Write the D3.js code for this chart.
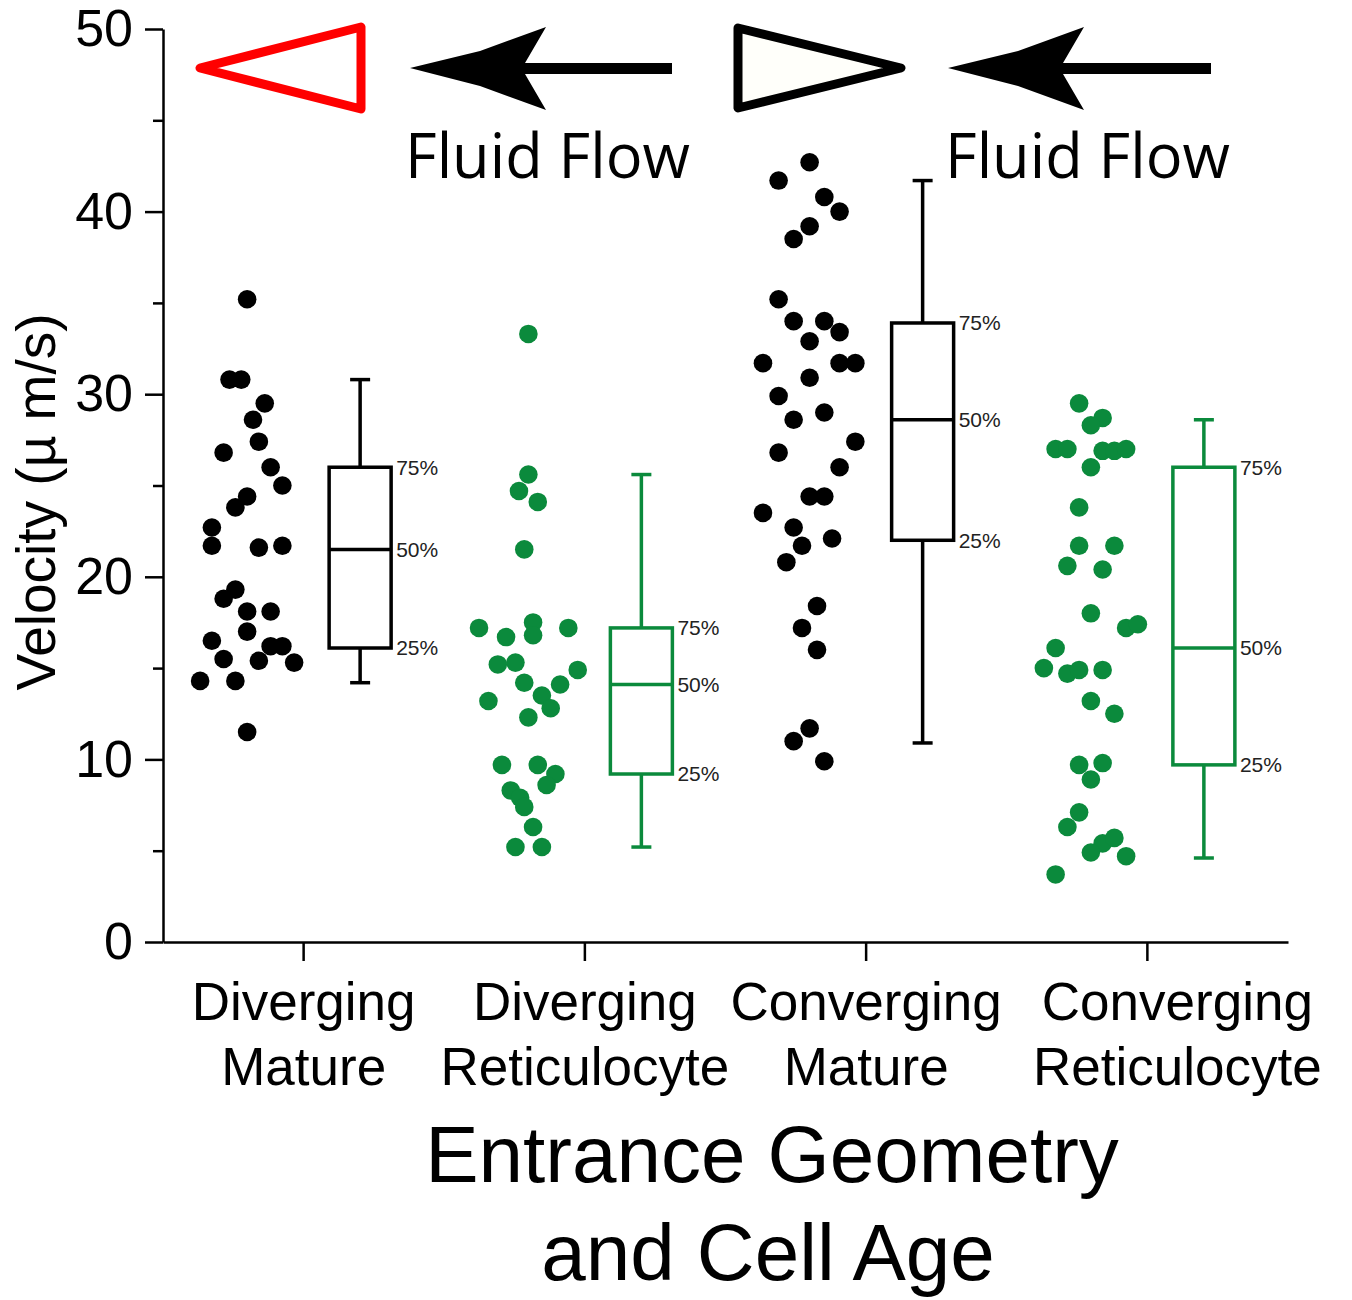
<html>
<head>
<meta charset="utf-8">
<script src="https://d3js.org/d3.v7.min.js"></script>
<style>
body { margin: 0; background: #fff; }
svg { font-family: "Liberation Sans", Arial, sans-serif; }
.axis path, .axis line { stroke: #000; stroke-width: 2.5; fill: none; }
.axis text { fill: #000; }
</style>
</head>
<body>
<svg id="chart" width="1352" height="1300"></svg>
<script>
// categories and tick labels
const categories = ["Diverging Mature", "Diverging Reticulocyte", "Converging Mature", "Converging Reticulocyte"];
const tickLines = [["Diverging", "Mature"], ["Diverging", "Reticulocyte"], ["Converging", "Mature"], ["Converging", "Reticulocyte"]];
const yTicks = [0, 10, 20, 30, 40, 50];
const yMinorTicks = [5, 15, 25, 35, 45];

// single cell velocities (um/s) and their horizontal jitter (in dot steps)
const divMatureVel = [35.2, 30.8, 30.8, 29.5, 28.6, 27.4, 26.8, 26.0, 25.0, 24.4, 23.8, 22.7, 21.7, 21.6, 21.7,
  19.3, 18.8, 18.1, 18.1, 16.5, 17.0, 16.2, 16.2, 15.5, 15.4, 15.3, 14.3, 14.3, 11.5];
const divMatureJit = [0, -1.5, -0.5, 1.5, 0.5, 1, -2, 2, 3, 0, -1, -3, -3, 1, 3,
  -1, -2, 0, 2, -3, 0, 2, 3, -2, 1, 4, -4, -1, 0];

const divReticVel = [33.3, 25.6, 24.7, 24.1, 21.5, 17.2, 16.7, 17.5, 16.8, 17.2, 15.2, 15.3, 14.9, 14.2, 14.1,
  13.2, 13.5, 12.8, 12.3, 9.7, 9.7, 9.2, 8.6, 8.3, 7.9, 7.4, 6.3, 5.2, 5.2];
const divReticJit = [0, 0, -0.8, 0.8, -0.35, -4.2, -1.9, 0.4, 0.4, 3.4, -2.6, -1.1, 4.2, -0.35, 2.7,
  -3.4, 1.15, 1.9, 0, -2.25, 0.8, 2.3, 1.55, -1.5, -0.7, -0.35, 0.4, -1.1, 1.15];

const convMatureVel = [42.7, 41.7, 40.8, 40.0, 39.2, 38.5, 35.2, 34.0, 34.0, 33.4, 32.9, 31.7, 31.7, 31.7, 30.9,
  29.9, 28.6, 29.0, 27.4, 26.8, 26.0, 24.4, 24.4, 23.5, 22.7, 21.7, 22.1, 20.8, 18.4, 17.2, 16.0, 11.7, 11.0, 9.9];
const convMatureJit = [0, -2.64, 1.25, 2.55, 0, -1.36, -2.64, -1.36, 1.25, 2.55, 0, -3.97, 2.55, 3.89, 0,
  -2.64, -1.36, 1.25, 3.89, -2.64, 2.55, 0, 1.25, -3.97, -1.36, -0.65, 1.91, -1.98, 0.63, -0.65, 0.63, 0, -1.36, 1.25];

const convReticVel = [29.5, 28.7, 28.3, 27.0, 27.0, 26.9, 26.9, 27.0, 26.0, 23.8, 21.7, 21.7, 20.6, 20.4, 18.0,
  17.2, 17.4, 16.1, 15.0, 14.7, 14.9, 14.9, 13.2, 12.5, 9.7, 9.8, 8.9, 7.1, 6.3, 5.4, 5.7, 4.9, 4.7, 3.7];
const convReticJit = [-1, 1, 0, -3, -2, 1, 2, 3, 0, -1, -1, 2, -2, 1, 0,
  3, 4, -3, -4, -2, -1, 1, 0, 2, -1, 1, 0, -1, -2, 1, 2, 0, 3, -3];

// box statistics: whisker low, 25%, 50%, 75%, whisker high
const whiskerLow = [14.2, 5.2, 10.9, 4.6];
const q1 = [16.1, 9.2, 22.0, 9.7];
const median = [21.5, 14.1, 28.6, 16.1];
const q3 = [26.0, 17.2, 33.9, 26.0];
const whiskerHigh = [30.8, 25.6, 41.7, 28.6];
const boxLabels = ["25%", "50%", "75%"];

const groups = [
  { vel: divMatureVel, jit: divMatureJit },
  { vel: divReticVel, jit: divReticJit },
  { vel: convMatureVel, jit: convMatureJit },
  { vel: convReticVel, jit: convReticJit }
];

const black = "#000";
const green = "#0b8a3c";
const groupColor = [black, green, black, green];

const svg = d3.select("#chart");

const y = d3.scaleLinear().domain([0, 50]).range([942, 29]);
const x = d3.scaleBand().domain(categories).range([163, 1288]);
const jitter = d3.scaleLinear().domain([-4, 4]).range([-47, 47]);
const center = (i) => x(categories[i]) + x.bandwidth() / 2;
const dotShift = -56.5, boxShift = 56.5, boxHalf = 31, capHalf = 10;

// y axis
svg.append("g")
  .attr("class", "axis")
  .attr("transform", "translate(163,0)")
  .call(d3.axisLeft(y).tickValues(yTicks).tickSize(18).tickSizeOuter(0).tickPadding(12))
  .call(g => g.selectAll("text").style("font-size", "52px").attr("font-family", null));

svg.append("g")
  .attr("class", "axis")
  .attr("transform", "translate(163,0)")
  .call(d3.axisLeft(y).tickValues(yMinorTicks).tickSize(10).tickFormat(""))
  .call(g => g.select(".domain").remove());

// x axis
const xAxis = svg.append("g")
  .attr("class", "axis")
  .attr("transform", "translate(0,942)")
  .call(d3.axisBottom(x).tickSize(19).tickSizeOuter(0).tickFormat(""));

xAxis.selectAll(".tick").each(function(d, i) {
  const t = d3.select(this).append("text")
    .attr("text-anchor", "middle")
    .style("font-size", "53px")
    .attr("fill", "#000");
  tickLines[i].forEach((line, k) => {
    t.append("tspan").attr("x", i == 3 ? 30 : 0).attr("y", 78 + k * 65).text(line);
  });
});

// axis titles
svg.append("text")
  .attr("transform", "translate(55,502) rotate(-90)")
  .attr("text-anchor", "middle")
  .style("font-size", "55px")
  .text("Velocity (\u00b5 m/s)");

const title = svg.append("text")
  .attr("text-anchor", "middle")
  .style("font-size", "80px");
title.append("tspan").attr("x", 772).attr("y", 1182).text("Entrance Geometry");
title.append("tspan").attr("x", 768).attr("y", 1280).text("and Cell Age");

// dots
groups.forEach((g, i) => {
  svg.append("g").selectAll("circle")
    .data(g.vel)
    .enter()
    .append("circle")
    .attr("cx", (d, k) => center(i) + dotShift + jitter(g.jit[k]))
    .attr("cy", d => y(d))
    .attr("r", 9.3)
    .attr("fill", groupColor[i]);
});

// boxes
categories.forEach((c, i) => {
  const cx = center(i) + boxShift;
  const col = groupColor[i];
  const b = svg.append("g")
    .attr("stroke", col)
    .attr("stroke-width", 3.5)
    .attr("fill", "none");
  b.append("line").attr("x1", cx).attr("x2", cx).attr("y1", y(whiskerHigh[i])).attr("y2", y(q3[i]));
  b.append("line").attr("x1", cx).attr("x2", cx).attr("y1", y(q1[i])).attr("y2", y(whiskerLow[i]));
  b.append("line").attr("x1", cx - capHalf).attr("x2", cx + capHalf).attr("y1", y(whiskerHigh[i])).attr("y2", y(whiskerHigh[i]));
  b.append("line").attr("x1", cx - capHalf).attr("x2", cx + capHalf).attr("y1", y(whiskerLow[i])).attr("y2", y(whiskerLow[i]));
  b.append("rect")
    .attr("x", cx - boxHalf).attr("width", boxHalf * 2)
    .attr("y", y(q3[i])).attr("height", y(q1[i]) - y(q3[i]));
  b.append("line").attr("x1", cx - boxHalf).attr("x2", cx + boxHalf).attr("y1", y(median[i])).attr("y2", y(median[i]));

  [q1[i], median[i], q3[i]].forEach((v, k) => {
    svg.append("text")
      .attr("x", cx + boxHalf + 5)
      .attr("y", y(v))
      .attr("dy", "0.35em")
      .style("font-size", "21px")
      .attr("fill", "#222")
      .text(boxLabels[k]);
  });
});

// entrance geometry icons and flow arrows
const icons = svg.append("g");
icons.append("path")
  .attr("d", "M200,68 L361,27 L361,109 Z")
  .attr("fill", "none").attr("stroke", "#ff0000").attr("stroke-width", 9).attr("stroke-linejoin", "round");
icons.append("path")
  .attr("d", "M738,28 L901,68 L738,108 Z")
  .attr("fill", "#fffffa").attr("stroke", black).attr("stroke-width", 9).attr("stroke-linejoin", "round");

function arrow(tipX, endX) {
  const h = tipX;
  icons.append("path")
    .attr("d", `M${h},68 L${h + 70},51 L${h + 136},27 L${h + 115},63 L${endX},63 L${endX},74 L${h + 115},74 L${h + 136},110 L${h + 70},86 Z`)
    .attr("fill", black);
}
arrow(410, 672);
arrow(948, 1211);

[405, 945].forEach(fx => {
  svg.append("text")
    .attr("x", fx)
    .attr("y", 178)
    .attr("textLength", 285)
    .attr("lengthAdjust", "spacingAndGlyphs")
    .style("font-family", "'Open Sans', 'Noto Sans', sans-serif")
    .style("font-size", "62px")
    .text("Fluid Flow");
});
</script>
</body>
</html>
